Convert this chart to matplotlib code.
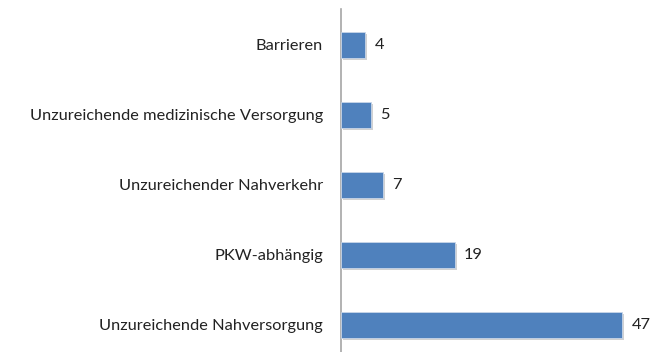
import matplotlib
matplotlib.use('Agg')
import matplotlib.pyplot as plt
import matplotlib.patheffects as pe

plt.rcParams['font.family'] = ['Lato', 'DejaVu Sans']

# Kategorien von unten nach oben
kategorien = [
    'Unzureichende Nahversorgung',
    'PKW-abhängig',
    'Unzureichender Nahverkehr',
    'Unzureichende medizinische Versorgung',
    'Barrieren',
]
werte = [47, 19, 7, 5, 4]

fig = plt.figure(figsize=(6.68, 3.52), dpi=100)
ax = fig.add_axes([341 / 668, 0, 299 / 668, 343 / 352])

pos = list(range(len(kategorien)))
bars = ax.barh(pos, werte, height=0.38, color='#4F81BD', edgecolor='#c9d6e8',
               linewidth=0.6, zorder=3)
for b in bars:
    b.set_path_effects([pe.SimplePatchShadow(offset=(1.5, -1.5), shadow_rgbFace='#9a9a9a',
                                             alpha=0.45), pe.Normal()])

for p, v in zip(pos, werte):
    ax.text(v + 1.6, p, str(v), va='center', ha='left', fontsize=11.8, color='#222222')

ax.set_xlim(0, 50)
ax.set_ylim(-0.386, 4.514)
ax.set_yticks(pos)
ax.set_yticklabels(kategorien, fontsize=11.8, color='#222222')
ax.tick_params(axis='y', length=0, pad=13)
ax.set_xticks([])
for s in ['top', 'right', 'bottom']:
    ax.spines[s].set_visible(False)
ax.spines['left'].set_color('#a6a6a6')
ax.spines['left'].set_linewidth(1.2)

fig.savefig('out.png', dpi=100)
